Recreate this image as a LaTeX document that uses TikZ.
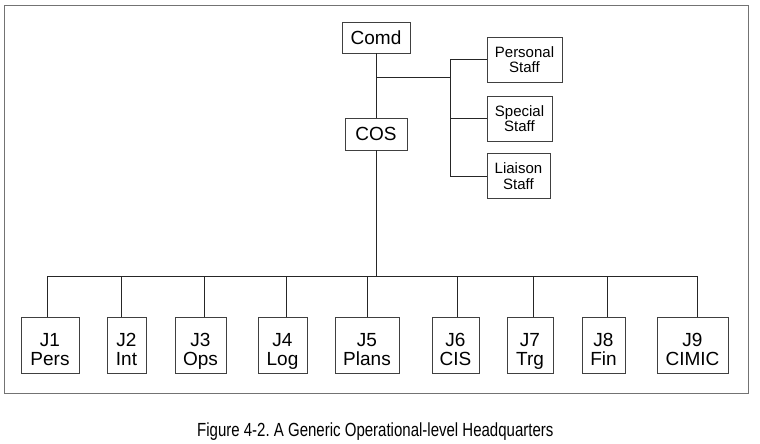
\documentclass[tikz,border=0pt]{standalone}
\usepackage{fontspec}
\setmainfont{Liberation Sans}
\usepackage{graphicx}
\usetikzlibrary{positioning,calc}
\frenchspacing

\begin{document}
\begin{tikzpicture}[x=1pt,y=-1pt,
    unitbox/.style={draw=black!75,line width=0.9pt,inner sep=0pt,align=center,
      font=\fontsize{19}{19.5}\selectfont},
    staffbox/.style={draw=black!75,line width=0.9pt,inner sep=0pt,align=center,
      minimum height=45pt,font=\fontsize{15}{15.5}\selectfont},
    link/.style={draw=black!85,line width=0.8pt}]
    \useasboundingbox (0,0) rectangle (760,444);
    \draw[black!55,line width=0.9pt] (4,5) rectangle (748,393);

    % Commander and chief of staff
    \node[unitbox,minimum width=68pt,minimum height=31pt] (comd) at (376,37.5) {Comd};
    \node[unitbox,minimum width=62pt,minimum height=32pt] (cos) at (376,134) {COS};
    \draw[link] (comd.south) -- (cos.north);

    % Staff branch
    \node[staffbox,minimum width=75pt] (personal) at (524.5,59.5) {Personal\\Staff};
    \node[staffbox,minimum width=65pt] (special) at (519.5,118.5) {Special\\Staff};
    \node[staffbox,minimum width=63pt] (liaison) at (518.5,176) {Liaison\\Staff};
    \coordinate (tee) at (376,77);
    \coordinate (spine) at (450,77);
    \draw[link] (tee) -- (spine);
    \draw[link] (personal.west -| spine) -- (liaison.west -| spine);
    \foreach \s in {personal,special,liaison}
        \draw[link] (\s.west -| spine) -- (\s.west);

    % J branches
    \foreach \n/\cx/\w/\top/\bot in {j1/50/58/J1/Pers, j2/126.5/39/J2/Int,
        j3/200.5/51/J3/Ops, j4/282.5/49/J4/Log, j5/367/64/J5/Plans,
        j6/455.5/47/J6/CIS, j7/530/46/J7/Trg, j8/603.5/43/J8/Fin,
        j9/692.5/71/J9/CIMIC}
        \node[unitbox,minimum width=\w pt,minimum height=56pt] (\n) at (\cx,345)
            {\rule{0pt}{26.5pt}\top\\\bot\rule[-5pt]{0pt}{5pt}};
    \coordinate (busl) at (47,276);
    \coordinate (busr) at (697,276);
    \draw[link] (busl) -- (busr);
    \draw[link] (cos.south) -- (cos |- busl);
    \foreach \n/\dx in {j1/-3,j2/-5.5,j3/3.5,j4/3.5,j5/0,j6/1.5,j7/3,j8/3.5,j9/4.5}
        \draw[link] ($(\n.north)+(\dx,0)$) -- ($(\n.north |- busl)+(\dx,0)$);

    \node[anchor=base west,inner sep=0pt] (caption) at (197,436)
        {\scalebox{0.79}[1]{\fontsize{19}{22}\selectfont Figure 4-2. A Generic Operational-level Headquarters}};
\end{tikzpicture}
\end{document}
